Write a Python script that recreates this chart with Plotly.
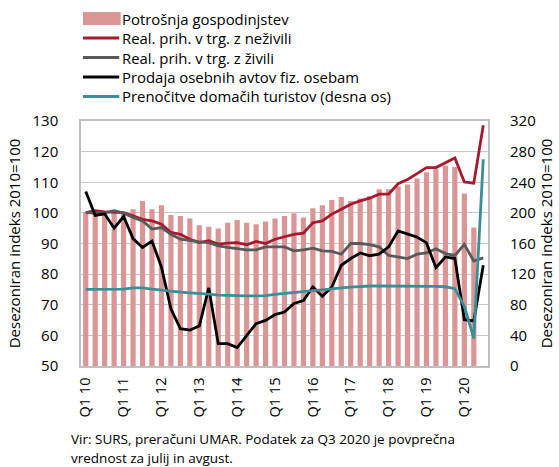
import plotly.graph_objects as go

quarters = [f"Q{q} {y}" for y in range(10, 21) for q in range(1, 5)][:43]
tick_labels = [f"Q1 {y}" for y in range(10, 21)]

potrosnja = [100.3, 100.7, 100.1, 100.7, 100.1, 101.2, 103.9, 101.2, 102.5, 99.3,
             99.0, 98.2, 96.0, 95.5, 94.9, 96.8, 97.7, 96.8, 96.3, 97.2,
             98.2, 99.0, 99.9, 98.5, 101.5, 102.5, 104.2, 105.2, 103.9, 104.7,
             105.5, 107.7, 107.7, 108.7, 109.3, 111.2, 113.3, 114.4, 115.5, 115.0,
             106.3, 95.2, None]
nezivila = [100.1, 100.7, 100.3, 100.3, 100.1, 99.0, 97.9, 97.4, 96.3, 93.6,
            93.0, 91.4, 90.3, 90.9, 89.8, 90.1, 90.3, 89.6, 90.7, 90.0,
            91.4, 92.2, 93.0, 93.4, 96.8, 97.4, 99.6, 101.2, 102.8, 103.9,
            104.8, 106.1, 106.1, 109.5, 110.9, 112.8, 114.8, 114.8, 116.4, 117.9,
            110.1, 109.7, 128.6]
zivila = [100.1, 99.9, 100.1, 100.7, 99.9, 98.5, 97.4, 94.7, 95.2, 93.0,
          91.4, 90.9, 90.5, 90.3, 89.2, 88.7, 88.2, 87.9, 87.9, 88.9,
          88.9, 88.9, 87.6, 87.9, 88.5, 87.6, 87.4, 86.5, 90.0, 90.0,
          89.6, 88.9, 86.1, 85.6, 85.1, 86.5, 86.9, 88.3, 86.7, 86.1,
          89.7, 84.3, 85.3]
avti = [107.0, 99.2, 99.7, 95.0, 98.8, 91.6, 88.7, 90.8, 82.3, 68.7,
        62.2, 61.7, 63.1, 75.5, 57.3, 57.3, 56.0, 59.9, 63.8, 64.9,
        66.8, 67.6, 70.4, 71.4, 75.8, 72.8, 75.8, 82.9, 85.1, 86.9,
        86.0, 86.5, 88.9, 94.1, 93.2, 92.1, 90.2, 82.1, 85.6, 85.1,
        65.1, 64.7, 82.9]
turisti = [100.0, 100.0, 100.0, 100.0, 100.5, 102.0, 102.0, 100.5, 99.0, 97.5,
           96.5, 95.5, 95.0, 94.0, 92.5, 92.0, 91.5, 91.5, 91.5, 92.0,
           93.5, 95.0, 96.5, 97.5, 98.5, 99.5, 101.0, 102.0, 103.0, 104.0,
           104.5, 104.5, 104.5, 104.5, 104.5, 104.5, 104.0, 104.0, 103.5, 101.0,
           78.0, 36.0, 270.0]

names = ["Potrošnja gospodinjstev", "Real. prih. v trg. z neživili",
         "Real. prih. v trg. z živili", "Prodaja osebnih avtov fiz. osebam",
         "Prenočitve domačih turistov (desna os)"]
c_bar = "#DA9694"
c_red = "#A6192E"
c_gray = "#595959"
c_black = "#000000"
c_teal = "#3A8E98"
LW = 2.8

FONT = "Open Sans"
fig = go.Figure()
fig.add_trace(go.Bar(x=quarters, y=potrosnja, name=names[0], marker_color=c_bar,
                     marker_line_width=0, showlegend=False))
fig.add_trace(go.Scatter(x=quarters, y=nezivila, name=names[1], mode="lines",
                         line=dict(color=c_red, width=LW), showlegend=False))
fig.add_trace(go.Scatter(x=quarters, y=zivila, name=names[2], mode="lines",
                         line=dict(color=c_gray, width=LW), showlegend=False))
fig.add_trace(go.Scatter(x=quarters, y=avti, name=names[3], mode="lines",
                         line=dict(color=c_black, width=LW), showlegend=False))
fig.add_trace(go.Scatter(x=quarters, y=turisti, name=names[4], mode="lines",
                         line=dict(color=c_teal, width=LW), yaxis="y2", showlegend=False))

L, R, T, B = 81, 68, 121, 101
W, H = 559, 467
pw, ph = W - L - R, H - T - B

def px(xp):
    return (xp - L) / pw

def py(yp):
    return (H - B - yp) / ph

shapes = []
annotations = []
# legend
legend_y = [18.5, 38, 57.5, 77, 96.5]
colors = [c_bar, c_red, c_gray, c_black, c_teal]
for i, (nm, col, yy) in enumerate(zip(names, colors, legend_y)):
    if i == 0:
        shapes.append(dict(type="rect", xref="paper", yref="paper",
                           x0=px(83), x1=px(121), y0=py(25), y1=py(12),
                           fillcolor=col, line_width=0))
    else:
        shapes.append(dict(type="line", xref="paper", yref="paper",
                           x0=px(83), x1=px(119.5), y0=py(yy), y1=py(yy),
                           line=dict(color=col, width=LW)))
    annotations.append(dict(text=nm, xref="paper", yref="paper", x=px(121.5), y=py(yy),
                            xanchor="left", yanchor="middle", showarrow=False,
                            borderpad=0,
                            font=dict(family=FONT, size=14.9, color="#000")))

foot = ["Vir: SURS, preračuni UMAR. Podatek za Q3 2020 je povprečna",
        "vrednost za julij in avgust."]
for txt, yy in zip(foot, [438.5, 457.5]):
    annotations.append(dict(text=txt, xref="paper", yref="paper", x=px(70), y=py(yy),
                            xanchor="left", yanchor="middle", showarrow=False,
                            borderpad=0,
                            font=dict(family=FONT, size=13.5, color="#000")))

fig.update_layout(
    width=W, height=H,
    margin=dict(l=L, r=R, t=T, b=B, pad=0),
    paper_bgcolor="white", plot_bgcolor="white",
    font=dict(family=FONT, size=15, color="#000"),
    bargap=0.45,
    shapes=shapes, annotations=annotations,
    xaxis=dict(type="category", tickmode="array", tickvals=tick_labels, ticktext=tick_labels,
               tickangle=-90, showgrid=False, showline=True, linecolor="#BFBFBF",
               linewidth=1.5, mirror=True, ticks="", ticklabelstandoff=4,
               tickfont=dict(size=14.5), range=[-0.5, 42.5]),
    yaxis=dict(range=[50, 130], dtick=10, tick0=50, showgrid=True, gridcolor="#C8C8C8",
               gridwidth=1.3, showline=True, linecolor="#BFBFBF", linewidth=1.5,
               mirror=True, ticks="", ticklabelstandoff=18, zeroline=False,
               title=dict(text="Desezoniran indeks 2010=100", standoff=8,
                          font=dict(size=15))),
    yaxis2=dict(range=[0, 320], dtick=40, tick0=0, overlaying="y", side="right",
                showgrid=False, ticks="outside", ticklen=18, tickcolor="rgba(0,0,0,0)",
                ticklabelstandoff=0, zeroline=False, showline=False,
                title=dict(text="Desezoniran indeks 2010=100", standoff=1,
                           font=dict(size=15))),
)

fig.write_html("out.html", config={"displayModeBar": False},
               post_script="document.body.style.margin='0px';")
